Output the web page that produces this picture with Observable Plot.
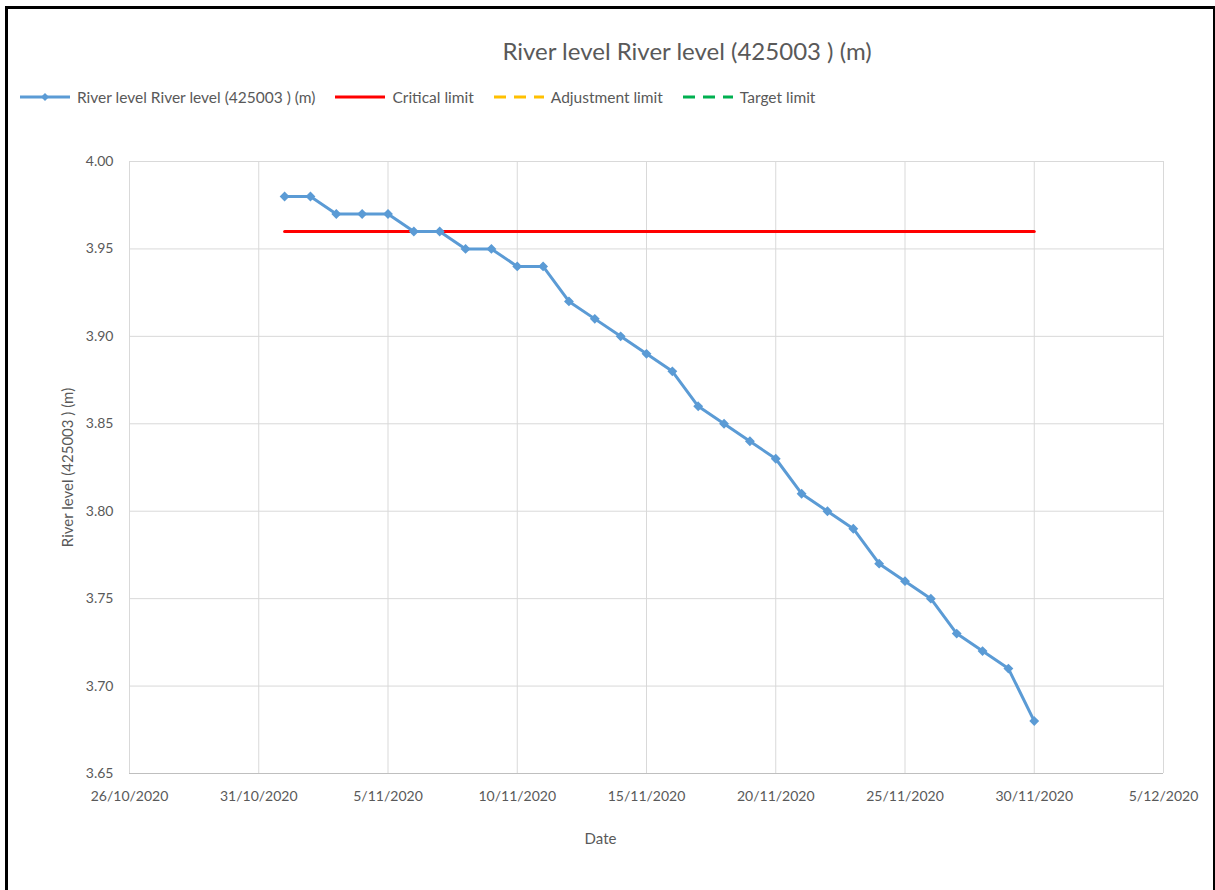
<!DOCTYPE html>
<html><head><meta charset="utf-8">
<script src="https://cdn.jsdelivr.net/npm/d3@7"></script>
<script src="https://cdn.jsdelivr.net/npm/@observablehq/plot@0.6"></script>
<style>
body{margin:0;background:#fff;font-family:Lato,"Open Sans",sans-serif;width:1215px;height:890px;overflow:hidden;position:relative;}
#frame{position:absolute;left:5px;top:6px;width:1205px;height:900px;border:3px solid #000;border-bottom:none;}
#title{position:absolute;top:36px;left:687px;transform:translateX(-50%);white-space:nowrap;font-size:24px;color:#595959;}
#legend{position:absolute;top:88px;left:20px;display:flex;align-items:center;font-size:15.5px;color:#595959;white-space:nowrap;}
#legend .item{display:flex;align-items:center;margin-right:20px;}
#legend svg{margin-right:7px;}
#chart{position:absolute;left:0;top:130px;}
</style>
</head><body>
<div id="frame"></div>
<div id="title">River level River level (425003 ) (m)</div>
<div id="legend"></div>
<div id="chart"></div>
<script>
const dates = ["2020-11-01","2020-11-02","2020-11-03","2020-11-04","2020-11-05","2020-11-06","2020-11-07","2020-11-08","2020-11-09","2020-11-10",
"2020-11-11","2020-11-12","2020-11-13","2020-11-14","2020-11-15","2020-11-16","2020-11-17","2020-11-18","2020-11-19","2020-11-20",
"2020-11-21","2020-11-22","2020-11-23","2020-11-24","2020-11-25","2020-11-26","2020-11-27","2020-11-28","2020-11-29","2020-11-30"];
const riverLevel = [3.98,3.98,3.97,3.97,3.97,3.96,3.96,3.95,3.95,3.94,
3.94,3.92,3.91,3.90,3.89,3.88,3.86,3.85,3.84,3.83,
3.81,3.80,3.79,3.77,3.76,3.75,3.73,3.72,3.71,3.68];
const criticalDates = ["2020-11-01","2020-11-30"];
const criticalLimit = [3.96,3.96];
const xTicks = ["2020-10-26","2020-10-31","2020-11-05","2020-11-10","2020-11-15","2020-11-20","2020-11-25","2020-11-30","2020-12-05"];
const yTicks = [3.65,3.70,3.75,3.80,3.85,3.90,3.95,4.00];
const legendNames = ["River level River level (425003 ) (m)","Critical limit","Adjustment limit","Target limit"];
const legendColors = ["#5b9bd5","#ff0000","#ffc000","#00b050"];
const legendDash = ["none","none","12,8","12,8"];

const parse = s => new Date(s + "T00:00:00Z");
const series = dates.map((d,i) => ({date: parse(d), value: riverLevel[i]}));
const critical = criticalDates.map((d,i) => ({date: parse(d), value: criticalLimit[i]}));
const xt = xTicks.map(parse);
const fmt = d => `${d.getUTCDate()}/${d.getUTCMonth()+1}/${d.getUTCFullYear()}`;

const chart = Plot.plot({
  width: 1215, height: 760,
  marginLeft: 129, marginRight: 52, marginTop: 31, marginBottom: 117,
  style: {fontFamily: "Lato, 'Open Sans', sans-serif", fontSize: "14px", color: "#595959", background: "transparent"},
  x: {type: "utc", domain: [xt[0], xt[xt.length-1]], ticks: xt, tickFormat: fmt, tickSize: 0, tickPadding: 18, label: null},
  y: {domain: [3.65, 4.00], ticks: yTicks, tickFormat: d => d.toFixed(2), tickSize: 0, tickPadding: 16, label: null},
  marks: [
    Plot.gridX(xt, {stroke: "#d9d9d9", strokeOpacity: 1, strokeWidth: 1}),
    Plot.gridY(yTicks, {stroke: "#d9d9d9", strokeOpacity: 1, strokeWidth: 1}),
    Plot.ruleY([3.65], {stroke: "#bfbfbf", strokeWidth: 1}),
    Plot.axisX(xt, {tickFormat: fmt, tickSize: 0, tickPadding: 18, label: null, fill: "#595959"}),
    Plot.axisY(yTicks, {tickFormat: d => d.toFixed(2), tickSize: 0, tickPadding: 16, label: null, fill: "#595959"}),
    Plot.text(["Date"], {frameAnchor: "bottom", dx: -46, dy: 70, fill: "#595959", fontSize: 15}),
    Plot.text(["River level (425003 ) (m)"], {frameAnchor: "left", textAnchor: "middle", dx: -61, rotate: -90, fill: "#595959", fontSize: 15}),
    Plot.line(critical, {x: "date", y: "value", stroke: "#ff0000", strokeWidth: 3}),
    Plot.line(series, {x: "date", y: "value", stroke: "#5b9bd5", strokeWidth: 3, strokeLinejoin: "round"}),
    Plot.dot(series, {x: "date", y: "value", symbol: "diamond2", fill: "#5b9bd5", stroke: "#5b9bd5", r: 3.5})
  ]
});
document.getElementById("chart").appendChild(chart);

const legend = d3.select("#legend");
legendNames.forEach((name, i) => {
  const item = legend.append("div").attr("class", "item");
  const svg = item.append("svg").attr("width", 50).attr("height", 12);
  svg.append("line").attr("x1", 0).attr("x2", 50).attr("y1", 6).attr("y2", 6)
    .attr("stroke", legendColors[i]).attr("stroke-width", 3)
    .attr("stroke-dasharray", legendDash[i] === "none" ? null : legendDash[i]);
  if (i === 0) {
    svg.append("path").attr("d", d3.symbol(d3.symbolDiamond2, 40)()).attr("transform", "translate(25,6)").attr("fill", legendColors[i]);
  }
  item.append("span").text(name);
});
</script>
</body></html>
